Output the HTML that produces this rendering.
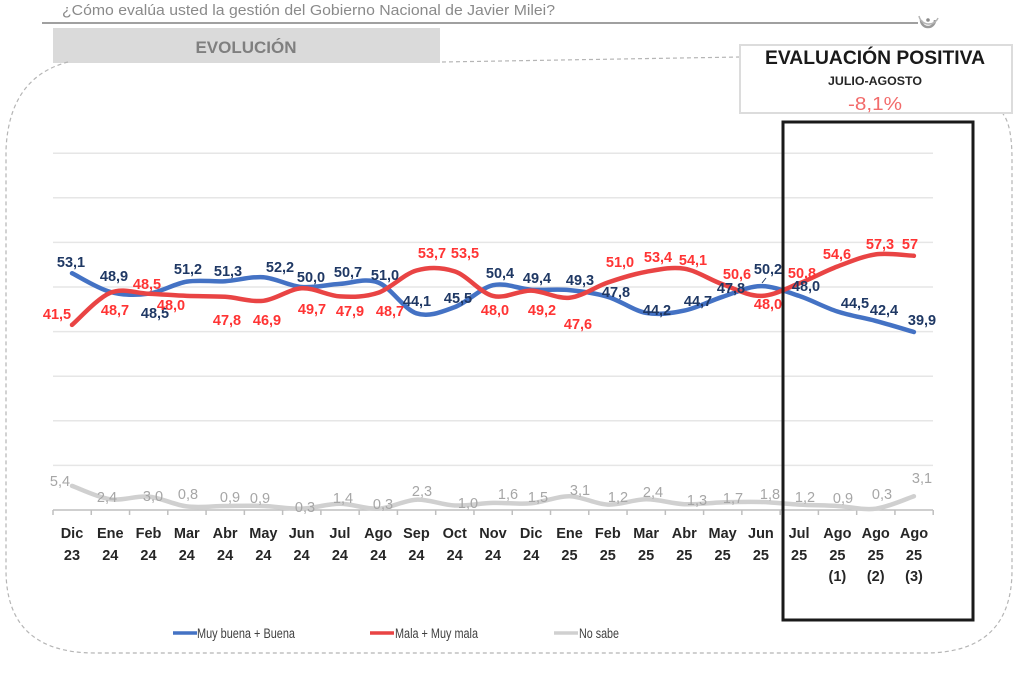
<!DOCTYPE html>
<html><head><meta charset="utf-8"><style>
html,body{margin:0;padding:0;background:#fff;}
svg{display:block;font-family:"Liberation Sans",sans-serif;}
.bl{fill:#1f3864;font-weight:bold;font-size:14.5px;text-anchor:middle;}
.rd{fill:#ff3434;font-weight:bold;font-size:14.5px;text-anchor:middle;}
.gy{fill:#a6a6a6;font-size:14.5px;text-anchor:middle;}
.xl{fill:#262626;font-weight:bold;font-size:14.5px;text-anchor:middle;}
.lg{fill:#404040;font-size:13.5px;}
</style></head><body>
<svg width="1024" height="681" viewBox="0 0 1024 681" xmlns="http://www.w3.org/2000/svg">
<rect width="1024" height="681" fill="#fff"/>
<!-- header -->
<text x="62" y="15" font-size="15" fill="#8a8a8a" textLength="493" lengthAdjust="spacingAndGlyphs">¿Cómo evalúa usted la gestión del Gobierno Nacional de Javier Milei?</text>
<line x1="42" y1="23" x2="918" y2="23" stroke="#a0a0a0" stroke-width="2"/>
<path d="M921 20 A7 7 0 0 0 935 20" fill="none" stroke="#9a9a9a" stroke-width="2.5"/>
<path d="M919 16 A10 10 0 0 0 938 18" fill="none" stroke="#b5b5b5" stroke-width="1.5"/>
<circle cx="928" cy="20" r="1.8" fill="#8a8a8a"/>
<rect x="53" y="28" width="387" height="35" fill="#dadada"/>
<text x="246" y="53" font-size="17" font-weight="bold" fill="#7f7f7f" text-anchor="middle">EVOLUCIÓN</text>
<!-- dashed frame -->
<path d="M68 62 C30 72 8 100 6 150 L6 570 Q6 653 95 653 L925 653 Q1012 653 1012 570 L1012 160 Q1012 125 1003 114" fill="none" stroke="#b5b5b5" stroke-width="1.2" stroke-dasharray="4 3"/>
<line x1="442" y1="62" x2="740" y2="57" stroke="#b5b5b5" stroke-width="1.2" stroke-dasharray="4 3"/>
<!-- summary box -->
<rect x="740" y="45" width="272" height="68" fill="#fff" stroke="#dcdcdc" stroke-width="2"/>
<text x="875" y="64" font-size="19" font-weight="bold" fill="#1a1a1a" text-anchor="middle" textLength="220" lengthAdjust="spacingAndGlyphs">EVALUACIÓN POSITIVA</text>
<text x="875" y="85" font-size="11.5" font-weight="bold" fill="#262626" text-anchor="middle" textLength="94" lengthAdjust="spacingAndGlyphs">JULIO-AGOSTO</text>
<text x="875" y="110" font-size="18" fill="#f26b6b" text-anchor="middle" textLength="54" lengthAdjust="spacingAndGlyphs">-8,1%</text>
<!-- gridlines -->
<g stroke="#e6e6e6" stroke-width="1.5">
<line x1="53" y1="465.4" x2="933" y2="465.4"/>
<line x1="53" y1="420.8" x2="933" y2="420.8"/>
<line x1="53" y1="376.2" x2="933" y2="376.2"/>
<line x1="53" y1="331.6" x2="933" y2="331.6"/>
<line x1="53" y1="287" x2="933" y2="287"/>
<line x1="53" y1="242.4" x2="933" y2="242.4"/>
<line x1="53" y1="197.8" x2="933" y2="197.8"/>
<line x1="53" y1="153.2" x2="933" y2="153.2"/>
</g>
<!-- axis -->
<line x1="53" y1="510" x2="933" y2="510" stroke="#bfbfbf" stroke-width="1.5"/>
<g id="ticks" stroke="#bfbfbf" stroke-width="1.5"></g>
<!-- series -->
<path id="pb" fill="none" stroke="#4472c4" stroke-width="4.5" stroke-linecap="round"/>
<path id="pr" fill="none" stroke="#e94444" stroke-width="4.5" stroke-linecap="round"/>
<path id="pg" fill="none" stroke="#d0d0d0" stroke-width="4.5" stroke-linecap="round"/>
<line x1="762" y1="283" x2="766" y2="278" stroke="#1f3864" stroke-width="1"/>
<!-- blue labels -->
<g class="bl">
<text x="71" y="267">53,1</text>
<text x="114" y="281">48,9</text>
<text x="155" y="318">48,5</text>
<text x="188" y="274">51,2</text>
<text x="228" y="276">51,3</text>
<text x="280" y="272">52,2</text>
<text x="311" y="282">50,0</text>
<text x="348" y="277">50,7</text>
<text x="385" y="280">51,0</text>
<text x="417" y="306">44,1</text>
<text x="458" y="303">45,5</text>
<text x="500" y="278">50,4</text>
<text x="537" y="283">49,4</text>
<text x="580" y="285">49,3</text>
<text x="616" y="297">47,8</text>
<text x="657" y="315">44,2</text>
<text x="698" y="306">44,7</text>
<text x="731" y="293">47,8</text>
<text x="768" y="274">50,2</text>
<text x="806" y="291">48,0</text>
<text x="855" y="308">44,5</text>
<text x="884" y="315">42,4</text>
<text x="922" y="325">39,9</text>
</g>
<!-- red labels -->
<g class="rd">
<text x="57" y="319">41,5</text>
<text x="115" y="315">48,7</text>
<text x="147" y="289">48,5</text>
<text x="171" y="310">48,0</text>
<text x="227" y="325">47,8</text>
<text x="267" y="325">46,9</text>
<text x="312" y="314">49,7</text>
<text x="350" y="316">47,9</text>
<text x="390" y="316">48,7</text>
<text x="432" y="258">53,7</text>
<text x="465" y="258">53,5</text>
<text x="495" y="315">48,0</text>
<text x="542" y="315">49,2</text>
<text x="578" y="329">47,6</text>
<text x="620" y="267">51,0</text>
<text x="658" y="262">53,4</text>
<text x="693" y="265">54,1</text>
<text x="737" y="279">50,6</text>
<text x="768" y="309">48,0</text>
<text x="802" y="278">50,8</text>
<text x="837" y="259">54,6</text>
<text x="880" y="249">57,3</text>
<text x="910" y="249">57</text>
</g>
<!-- gray labels -->
<g class="gy">
<text x="60" y="486">5,4</text>
<text x="107" y="502">2,4</text>
<text x="153" y="501">3,0</text>
<text x="188" y="499">0,8</text>
<text x="230" y="502">0,9</text>
<text x="260" y="503">0,9</text>
<text x="305" y="512">0,3</text>
<text x="343" y="503">1,4</text>
<text x="383" y="509">0,3</text>
<text x="422" y="496">2,3</text>
<text x="468" y="508">1,0</text>
<text x="508" y="499">1,6</text>
<text x="538" y="502">1,5</text>
<text x="580" y="495">3,1</text>
<text x="618" y="502">1,2</text>
<text x="653" y="497">2,4</text>
<text x="697" y="505">1,3</text>
<text x="733" y="503">1,7</text>
<text x="770" y="499">1,8</text>
<text x="805" y="502">1,2</text>
<text x="843" y="503">0,9</text>
<text x="882" y="499">0,3</text>
<text x="922" y="483">3,1</text>
</g>
<!-- x labels -->
<g class="xl">
<text x="72" y="538">Dic</text><text x="72" y="560">23</text>
<text x="110.3" y="538">Ene</text><text x="110.3" y="560">24</text>
<text x="148.5" y="538">Feb</text><text x="148.5" y="560">24</text>
<text x="186.8" y="538">Mar</text><text x="186.8" y="560">24</text>
<text x="225.1" y="538">Abr</text><text x="225.1" y="560">24</text>
<text x="263.4" y="538">May</text><text x="263.4" y="560">24</text>
<text x="301.6" y="538">Jun</text><text x="301.6" y="560">24</text>
<text x="339.9" y="538">Jul</text><text x="339.9" y="560">24</text>
<text x="378.2" y="538">Ago</text><text x="378.2" y="560">24</text>
<text x="416.4" y="538">Sep</text><text x="416.4" y="560">24</text>
<text x="454.7" y="538">Oct</text><text x="454.7" y="560">24</text>
<text x="493" y="538">Nov</text><text x="493" y="560">24</text>
<text x="531.2" y="538">Dic</text><text x="531.2" y="560">24</text>
<text x="569.5" y="538">Ene</text><text x="569.5" y="560">25</text>
<text x="607.8" y="538">Feb</text><text x="607.8" y="560">25</text>
<text x="646.1" y="538">Mar</text><text x="646.1" y="560">25</text>
<text x="684.3" y="538">Abr</text><text x="684.3" y="560">25</text>
<text x="722.6" y="538">May</text><text x="722.6" y="560">25</text>
<text x="760.9" y="538">Jun</text><text x="760.9" y="560">25</text>
<text x="799.1" y="538">Jul</text><text x="799.1" y="560">25</text>
<text x="837.4" y="538">Ago</text><text x="837.4" y="560">25</text><text x="837.4" y="581">(1)</text>
<text x="875.7" y="538">Ago</text><text x="875.7" y="560">25</text><text x="875.7" y="581">(2)</text>
<text x="914" y="538">Ago</text><text x="914" y="560">25</text><text x="914" y="581">(3)</text>
</g>
<!-- black box -->
<rect x="783" y="122" width="190" height="498" fill="none" stroke="#1a1a1a" stroke-width="3"/>
<!-- legend -->
<line x1="173" y1="633" x2="197" y2="633" stroke="#4472c4" stroke-width="3.5"/>
<text class="lg" x="197" y="638" textLength="98" lengthAdjust="spacingAndGlyphs">Muy buena + Buena</text>
<line x1="370" y1="633" x2="394" y2="633" stroke="#e94444" stroke-width="3.5"/>
<text class="lg" x="395" y="638" textLength="83" lengthAdjust="spacingAndGlyphs">Mala + Muy mala</text>
<line x1="554" y1="633" x2="578" y2="633" stroke="#d0d0d0" stroke-width="3.5"/>
<text class="lg" x="579" y="638" textLength="40" lengthAdjust="spacingAndGlyphs">No sabe</text>
</svg>
<script>
(function(){
var B=[53.1,48.9,48.5,51.2,51.3,52.2,50.0,50.7,51.0,44.1,45.5,50.4,49.4,49.3,47.8,44.2,44.7,47.8,50.2,48.0,44.5,42.4,39.9];
var R=[41.5,48.7,48.5,48.0,47.8,46.9,49.7,47.9,48.7,53.7,53.5,48.0,49.2,47.6,51.0,53.4,54.1,50.6,48.0,50.8,54.6,57.3,57];
var G=[5.4,2.4,3.0,0.8,0.9,0.9,0.3,1.4,0.3,2.3,1.0,1.6,1.5,3.1,1.2,2.4,1.3,1.7,1.8,1.2,0.9,0.3,3.1];
function X(i){return 72+38.27*i;}
function Y(v){return 510-v*4.46;}
function path(a){
 var p=a.map(function(v,i){return [X(i),Y(v)];});
 var d="M"+p[0][0].toFixed(1)+" "+p[0][1].toFixed(1);
 for(var i=0;i<p.length-1;i++){
  var p0=p[i>0?i-1:i],p1=p[i],p2=p[i+1],p3=p[i+2<p.length?i+2:i+1];
  var c1x=p1[0]+(p2[0]-p0[0])/6,c1y=p1[1]+(p2[1]-p0[1])/6;
  var c2x=p2[0]-(p3[0]-p1[0])/6,c2y=p2[1]-(p3[1]-p1[1])/6;
  d+=" C"+c1x.toFixed(1)+" "+c1y.toFixed(1)+" "+c2x.toFixed(1)+" "+c2y.toFixed(1)+" "+p2[0].toFixed(1)+" "+p2[1].toFixed(1);
 }
 return d;
}
document.getElementById("pb").setAttribute("d",path(B));
document.getElementById("pr").setAttribute("d",path(R));
document.getElementById("pg").setAttribute("d",path(G));
var t=document.getElementById("ticks"),ns="http://www.w3.org/2000/svg";
for(var k=0;k<=23;k++){var x=53+38.27*k;var l=document.createElementNS(ns,"line");
l.setAttribute("x1",x);l.setAttribute("x2",x);l.setAttribute("y1",510);l.setAttribute("y2",515);t.appendChild(l);}
})();
</script>
</body></html>
